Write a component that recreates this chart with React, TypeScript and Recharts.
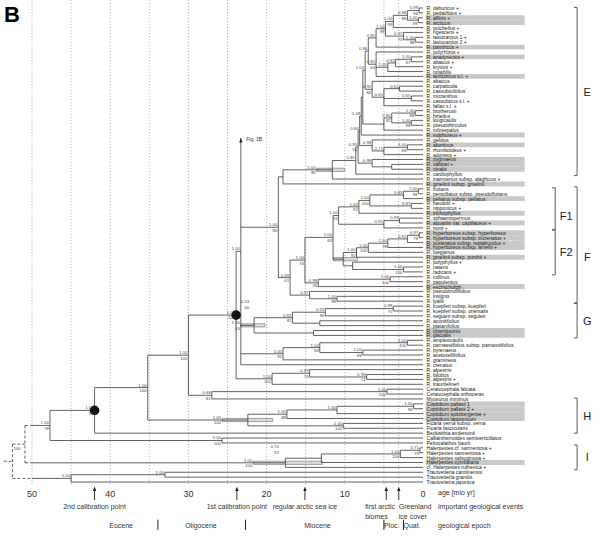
import React from "react";
import { ComposedChart, XAxis, YAxis, Scatter, ReferenceLine, ReferenceArea, ReferenceDot } from "recharts";

const FONT = "'Liberation Sans', Arial, Helvetica, sans-serif";

// ---------------- data ----------------
// tip taxa (top to bottom); second value: highlighted (grey box)
const TIPS: [string, boolean][] = [
  ["R. dahuricus +", false], ["R. pedatifidus +", false], ["R. affinis +", true], ["R. arcticus", true],
  ["R. pulchellus +", false], ["R. rigescens +", false], ["R. lasiocarpus 1 +", false], ["R. lasiocarpus 2 +", false],
  ["R. pamiricus +", true], ["R. polyrhizos +", false], ["R. anadyrensis +", true], ["R. altaicus +", false],
  ["R. krylovii +", false], ["R. notabilis", false], ["R. auricomus s.l. +", true], ["R. altaicus", false],
  ["R. carpaticola", false], ["R. cassubicifolius", false], ["R. micranthus", false], ["R. cassubicus s.l. +", false],
  ["R. fallax s.l. +", false], ["R. brotherusii", false], ["R. hirtellus", false], ["R. longicaulis", false],
  ["R. pseudohirculus", false], ["R. rufosepalus", false], ["R. sulphureus +", true], ["R. gelidus", false],
  ["R. abortivus", true], ["R. rhomboideus +", false], ["R. adoneus +", false], ["R. pygmaeus", true],
  ["R. sabinei +", true], ["R. nivalis", true], ["R. cardiophyllus", false], ["R. inamoenus subsp. alaghicus +", false],
  ["R. gmelinii subsp. gmelinii", true], ["R. fluitans", false], ["R. penicillatus subsp. pseudofluitans", false],
  ["R. peltatus subsp. peltatus", true], ["R. baudotii +", false], ["R. nipponicus +", false], ["R. trichophyllus", true],
  ["R. sphaerospermus", false], ["R. aquatilis var. capillaceus +", true], ["R. rionii +", false],
  ["R. hyperboreus subsp. hyperboreus", true], ["R. hyperboreus subsp. tricrenatus +", true],
  ["R. sceleratus subsp. reptabundus +", true], ["R. hyperboreus subsp. arnellii +", true], ["R. fuegianus", false],
  ["R. gmelinii subsp. purshii +", true], ["R. polyphyllus +", false], ["R. natans", false], ["R. radicans +", false],
  ["R. collinus", false], ["R. papulentus", false], ["R. eschscholtzii", true], ["R. pseudotrullifolius", false],
  ["R. insignis", false], ["R. lyallii", false], ["R. kuepferi subsp. kuepferi", false], ["R. kuepferi subsp. orientalis", false],
  ["R. seguieri subsp. seguieri", false], ["R. aconitifolius", false], ["R. platanifolius", false], ["R. chamissonis", true],
  ["R. glacialis", true], ["R. amplexicaulis", false], ["R. parnassiifolius subsp. parnassiifolius", false],
  ["R. pyrenaeus", false], ["R. acetosellifolius", false], ["R. gramineus", false], ["R. crenatus", false],
  ["R. alpestris", false], ["R. bilobus", false], ["R. alpestris +", false], ["R. traunfellneri", false],
  ["Ceratocephala falcata", false], ["Ceratocephala orthoceras", false], ["Myosurus minimus", false],
  ["Coptidium pallasii 1", true], ["Coptidium pallasii 2 +", true], ["Coptidium spitsbergense +", true],
  ["Coptidium lapponicum", true], ["Ficaria verna subsp. verna", false], ["Ficaria fascicularis", false],
  ["Beckwithia andersonii", false], ["Callianthemoides semiverticillatus", false], ["Peltocalathos baurii", false],
  ["Halerpestes cf. sarmentosa +", false], ["Halerpestes sarmentosa +", false], ["Halerpestes salsuginosa +", false],
  ["Halerpestes cymbalaria", true], ["cf. Halerpestes ruthenica +", false], ["Trautvetteria carolinensis", false],
  ["Trautvetteria grandis", false], ["Trautvetteria japonica", false],
];

// internal nodes: id, age (Ma), children (tip number 1-based, node id, or "fig" = pointer to Fig. 1B), posterior, bootstrap
type Kid = string | number;
const NODES: [string, number, Kid[], string, string][] = [
  ["e1", 0.5, [1, 2], "0.99", "66"], ["e2", 0.6, [3, 4], "1.00", "99"], ["e3", 2.0, ["e1", "e2"], "0.98", "88"],
  ["e4", 3.8, ["e3", 5], "1.00", "99"], ["e5", 1.0, [7, 8], "1.00", "98"], ["e6", 2.5, [6, "e5"], "0.97", "73"],
  ["e7", 4.8, ["e4", "e6"], "1.00", "99"], ["e8", 6.0, ["e7", 9], "0.95", ""], ["e9", 1.5, [11, 12], "1.00", "97"],
  ["e10", 3.5, ["e9", 13], "0.93", ""], ["e11", 4.5, ["e10", 14], "1.00", ""], ["e12", 6.0, [10, "e11", 15], "0.95", "64"],
  ["xc", 7.0, ["e8", "e12"], "0.96", ""], ["e14", 1.5, [19, 20], "0.65", ""], ["e15", 3.0, [17, 18], "0.61", ""],
  ["e16", 5.0, ["e15", "e14", 21], "0.65", ""], ["e17", 6.5, [16, "e16"], "0.95", "84"], ["xb", 7.4, ["xc", "e17"], "1.00", ""],
  ["e18", 1.0, [22, 23], "1.00", "88"], ["e19", 1.5, [24, 25], "1.00", "98"], ["e20", 4.0, ["e18", "e19"], "0.85", "82"],
  ["e21", 5.0, ["e20", 26], "", ""], ["xa", 7.7, ["xb", "e21"], "", ""], ["l1", 7.9, ["xa", 27], "0.58", ""],
  ["e23", 2.0, [29, 30], "1.00", "83"], ["e24", 5.0, ["e23", 31], "0.71", ""], ["e25", 6.5, [28, "e24"], "0.98", ""],
  ["l2", 8.1, ["l1", "e25"], "0.84", ""], ["e26", 4.0, [33, 34], "", ""], ["e27", 6.5, [32, "e26"], "0.98", ""],
  ["l3", 8.3, ["l2", "e27"], "0.95", "55"], ["l4", 8.6, ["l3", 35], "0.85", ""], ["E", 11.6, ["l4", 36], "1.00", "86"],
  ["EG", 17.9, ["E", 37], "", ""],
  ["f1", 0.6, [38, 39], "1.00", "98"], ["f2", 2.5, ["f1", 40], "0.83", ""], ["f3", 1.5, [41, 42], "0.97", ""],
  ["f4", 6.8, ["f2", "f3"], "1.00", "100"], ["f5", 8.2, ["f4", 43], "1.00", "92"], ["f6", 3.0, [44, 45], "0.99", ""],
  ["f7", 5.0, ["f6", 46], "0.91", ""], ["F1", 10.8, ["f5", "f7"], "1.00", "74"], ["f8", 0.5, [47, 48], "0.97", "78"],
  ["f9", 2.0, ["f8", 49], "0.92", ""], ["f10", 4.5, ["f9", 50], "1.00", "78"], ["f11", 7.0, ["f10", 51], "1.00", "100"],
  ["f12", 8.5, ["f11", 52], "1.00", "92"], ["f13", 2.5, [54, 55], "1.00", "100"], ["f14", 9.0, [53, "f13"], "", ""],
  ["F2", 10.2, ["f12", "f14"], "", ""], ["F12", 11.5, ["F1", "F2"], "1.00", "63"], ["f16", 4.2, [56, 57], "1.00", "100"],
  ["f17", 13.4, ["f16", 58], "0.99", "56"], ["f19", 11.0, [60, 61], "1.00", "98"], ["f20", 14.5, [59, "f19"], "0.97", ""],
  ["f18", 15.1, ["F12", "f17"], "1.00", "74"], ["F", 17.0, ["f18", "f20"], "0.99", "61"],
  ["Z", 18.5, ["EG", "F"], "1.00", "86"],
  ["g1", 3.8, [62, 63], "0.98", "75"], ["g2", 12.5, ["g1", 64], "0.92", "96"], ["g3", 13.2, [65, 66], "", ""],
  ["g4", 16.7, ["g2", "g3"], "0.92", "82"], ["g6", 14.0, [67, 68], "", ""], ["g5", 21.6, ["g4", "g6"], "1.00", "63"],
  ["p1", 2.0, [69, 70], "1.00", "100"], ["p2", 7.7, [71, 72], "1.00", "88"], ["p3", 13.2, ["p1", "p2"], "1.00", "94"],
  ["p4", 17.9, ["p3", 73], "1.00", "91"], ["X1", 23.3, ["fig", "Z", "g5", "p4", 74], "1.00", ""],
  ["a0", 7.2, [76, 77], "0.99", "74"], ["a1", 14.5, [75, "a0"], "0.99", "74"], ["a2", 19.3, ["a1", 78], "1.00", "100"],
  ["D", 23.9, ["X1", "a2"], "1.00", "100"], ["ce", 4.6, [79, 80], "1.00", "100"], ["cm", 27.0, ["ce", 81], "0.68", "81"],
  ["N30", 30.0, ["D", "cm"], "1.00", "100"], ["c1", 1.2, [82, 83], "1.00", "96"], ["c2", 11.0, ["c1", 84], "1.00", ""],
  ["c3", 17.4, ["c2", 85], "1.00", "88"], ["fi", 10.2, [86, 87], "1.00", "100"], ["CF", 22.4, ["c3", "fi"], "1.00", "100"],
  ["N35", 35.2, ["N30", "CF"], "1.00", "100"], ["N42", 42.0, ["N35", 88], "1.00", "97"], ["cp", 25.7, [89, 90], "1.00", "100"],
  ["N47", 47.7, ["N42", "cp"], "1.00", "78"], ["h1", 0.4, [91, 92], "0.71", "79"], ["h2", 2.9, ["h1", 93], "1.00", "100"],
  ["h3", 13.0, ["h2", 94], "", ""], ["h4", 17.6, ["h3", 95], "1.00", "100"], ["t1", 33.0, [96, 97], "1.00", ""],
  ["t2", 45.0, ["t1", 98], "1.00", ""],
];

// 95% HPD bars: node, older bound, younger bound
const HPD: [string, number, number][] = [
  ["E", 13.6, 10.0], ["F2", 11.5, 8.4], ["g5", 23.3, 20.2], ["CF", 25.7, 19.2], ["h4", 21.7, 12.9],
];
const CALIBRATED_NODES = ["N42", "D"];
const ROOT_STEMS = ["N47", "h4", "t2"];
const AGE_TICKS = [50, 40, 30, 20, 10, 0];
const GRID_AGES = [50, 45, 40, 35, 30, 25, 20, 15, 10, 5, 3.1];
const EVENTS: [number, string[]][] = [
  [42.0, ["2nd calibration point"]], [23.8, ["1st calibration point"]], [15.1, ["regular arctic sea ice"]],
  [4.7, ["first arctic", "biomes"]], [3.1, ["Greenland", "ice cover"]],
];
const EPOCHS: [number, string][] = [[38.6, "Eocene"], [28.4, "Oligocene"], [13.5, "Miocene"], [4.0, "Ploc."], [1.4, "Quat."]];
const EPOCH_BOUNDS = [33.9, 22.7, 5.0, 2.5];
// clade brackets: label, top row, bottom row, column
const CLADES: [string, number, number, number][] = [
  ["E", 0.9, 35.3, 0], ["F", 37.6, 61.4, 0], ["G", 61.4, 68.5, 0], ["H", 80.8, 88.0, 0], ["I", 90.4, 95.5, 0],
  ["F1", 37.8, 46.4, 1], ["F2", 46.4, 55.6, 1],
];

// ---------------- layout helpers (axis space: x = age, y = tip row) ----------------
const X_DOMAIN: [number, number] = [-22.63, 54.09];
const Y_DOMAIN: [number, number] = [-0.637, 109.246];
const TIP_LABEL_AGE = -0.45;
const HL_END_AGE = -13.0;
const ROW_AXIS = 100.45, ROW_EVENT = 103.1, ROW_EVENT2 = 105.15, ROW_EPOCH = 106.8;
const ARROW_TOP = 98.9, ARROW_BOTTOM = 101.7, GRID_BOTTOM = 98.8;
const LEGEND_AGE = -1.92;
const BRACKET_AGE = [-19.7, -16.9];
const BRACKET_LABEL_AGE = [-21.0, -18.3];
const FIG_REF_ROW = 27.6;

const nodeById = new Map(NODES.map((n) => [n[0], n]));
const ageOf = (k: Kid): number => (typeof k === "number" ? 0 : nodeById.get(k)![1]);
const yMemo = new Map<string, number>();
const yOf = (k: Kid): number => {
  if (typeof k === "number") return k;
  if (k === "fig") return FIG_REF_ROW;
  if (yMemo.has(k)) return yMemo.get(k)!;
  const ys = nodeById.get(k)![2].map(yOf);
  const v = (Math.min(...ys) + Math.max(...ys)) / 2;
  yMemo.set(k, v);
  return v;
};

type Seg = { x1: number; y1: number; x2: number; y2: number; dashed?: boolean };
const branches: Seg[] = [];
NODES.forEach(([, age, kids]) => {
  const ys = kids.map(yOf);
  branches.push({ x1: age, y1: Math.min(...ys), x2: age, y2: Math.max(...ys) });
  kids.filter((k) => k !== "fig").forEach((k) => branches.push({ x1: age, y1: yOf(k), x2: ageOf(k), y2: yOf(k) }));
});
// root stems & dashed (uncertain) root connectors
const ROOT_AGE = 50, ROOT_A = 50.9, ROOT_B = 52.5, ROOT_C = 53.6;
ROOT_STEMS.forEach((id) => branches.push({ x1: ROOT_AGE, y1: yOf(id), x2: ageOf(id), y2: yOf(id) }));
{
  const a = yOf("N47"), b = yOf("h4"), c = yOf("t2");
  const m1 = (a + b) / 2, m2 = (m1 + c) / 2;
  branches.push(
    { x1: ROOT_A, y1: a, x2: ROOT_AGE, y2: a, dashed: true },
    { x1: ROOT_A, y1: b, x2: ROOT_AGE, y2: b, dashed: true },
    { x1: ROOT_A, y1: a, x2: ROOT_A, y2: b, dashed: true },
    { x1: ROOT_B, y1: m1, x2: ROOT_A, y2: m1, dashed: true },
    { x1: ROOT_B, y1: c, x2: ROOT_AGE, y2: c, dashed: true },
    { x1: ROOT_B, y1: m1, x2: ROOT_B, y2: c, dashed: true },
    { x1: ROOT_C, y1: m2, x2: ROOT_B, y2: m2, dashed: true },
  );
}
const rootLabel = [{ x: (ROOT_A + ROOT_B) / 2 + 0.2, y: (yOf("N47") + yOf("h4")) / 2 + 0.9, t: "100" }];

const hpdMap = new Map(HPD.map((h) => [h[0], h]));
const nodeLabels = NODES.filter((n) => n[3] || n[4]).map(([id, age, , pp, bs]) => ({
  x: hpdMap.has(id) ? hpdMap.get(id)![1] : age, y: yOf(id), pp, bs,
}));
const extraLabels = [
  { x: 22.1, y: 61.6, pp: "0.53", bs: "60" },
  { x: 18.3, y: 91.3, pp: "0.74", bs: "92" },
];
const tipData = TIPS.map(([t], i) => ({ x: TIP_LABEL_AGE, y: i + 1, t }));
const tickData = AGE_TICKS.map((a) => ({ x: a, y: ROW_AXIS, t: String(a) }));
const eventText = EVENTS.flatMap(([a, lines]) =>
  lines.map((t, i) => ({ x: a, y: i === 0 ? ROW_EVENT : ROW_EVENT2, t, multi: lines.length > 1 })),
);
const eventCentered = eventText.filter((d) => !d.multi);
const eventLeft = eventText
  .filter((d) => d.multi)
  .map((d) => ({ ...d, x: d.x > 4 ? 7.4 : 3.1 }));
const epochText = EPOCHS.map(([a, t]) => ({ x: a, y: ROW_EPOCH, t }));
const legendText = [
  { x: LEGEND_AGE, y: ROW_AXIS - 0.35, t: "age [mio yr]" },
  { x: LEGEND_AGE, y: ROW_EVENT, t: "important geological events" },
  { x: LEGEND_AGE, y: ROW_EPOCH, t: "geological epoch" },
];
const arrowHeads = EVENTS.map(([a]) => ({ x: a, y: ARROW_TOP }));
const cladeLabels = CLADES.map(([t, top, bot, col]) => ({
  x: BRACKET_LABEL_AGE[col], y: t === "F1" ? 43.6 : t === "F2" ? 51.0 : (top + bot) / 2 + (t === "F" ? 2.5 : 0), t,
}));
const fig1b = [{ x: ageOf("X1") - 0.7, y: FIG_REF_ROW + 0.3, t: "Fig. 1B" }];
const fig1bArrow = [{ x: ageOf("X1"), y: FIG_REF_ROW }];

// ---------------- rendering ----------------
const textShape = (size: number, anchor: string, fill = "#222", weight = "normal", dx = 0) => (p: any) => (
  <text x={p.cx + dx} y={p.cy} fontSize={size} textAnchor={anchor} fill={fill} fontWeight={weight}
    fontFamily={FONT} dominantBaseline="central">{p.payload.t}</text>
);
const supportShape = (p: any) => (
  <g fontFamily={FONT} fontSize={4.3} fill="#444" textAnchor="end">
    {p.payload.pp ? <text x={p.cx - 1} y={p.cy - 1.1}>{p.payload.pp}</text> : null}
    {p.payload.bs ? <text x={p.cx - 1} y={p.cy + 4.4}>{p.payload.bs}</text> : null}
  </g>
);
const arrowShape = (p: any) => (
  <path d={`M${p.cx},${p.cy} L${p.cx - 1.7},${p.cy + 4.5} L${p.cx + 1.7},${p.cy + 4.5} Z`} fill="#222" />
);

export default function App() {
  const lineColor = "#3a3a3a";
  return (
    <div style={{ width: 600, height: 537, background: "#fff", position: "relative" }}>
      <style>{"body{margin:0;background:#fff}"}</style>
      <ComposedChart width={600} height={537} margin={{ top: 0, right: 0, bottom: 0, left: 0 }}>
        <XAxis type="number" dataKey="x" domain={X_DOMAIN} reversed hide allowDataOverflow />
        <YAxis type="number" dataKey="y" domain={Y_DOMAIN} reversed hide allowDataOverflow />

        {/* highlighted taxa */}
        {TIPS.map(([, hl], i) =>
          hl ? (
            <ReferenceArea key={`hl${i}`} x1={TIP_LABEL_AGE + 0.1} x2={HL_END_AGE} y1={i + 0.5} y2={i + 1.5}
              fill="#c9c9c9" fillOpacity={1} stroke="none" ifOverflow="visible" />
          ) : null,
        )}

        {/* dotted time grid */}
        {GRID_AGES.map((a) => (
          <ReferenceLine key={`g${a}`} segment={[{ x: a, y: Y_DOMAIN[0] }, { x: a, y: GRID_BOTTOM }]}
            stroke="#9a9a9a" strokeWidth={0.7} strokeDasharray="1.2 1.8" ifOverflow="visible" />
        ))}

        {/* HPD bars */}
        {HPD.map(([id, a1, a2]) => (
          <ReferenceArea key={`hpd${id}`} x1={a1} x2={a2} y1={yOf(id) - 0.33} y2={yOf(id) + 0.33}
            fill="#dcdcdc" fillOpacity={1} stroke="#555" strokeWidth={0.5} ifOverflow="visible" />
        ))}

        {/* branches */}
        {branches.map((s, i) => (
          <ReferenceLine key={`b${i}`} segment={[{ x: s.x1, y: s.y1 }, { x: s.x2, y: s.y2 }]}
            stroke={lineColor} strokeWidth={0.8} strokeDasharray={s.dashed ? "3 2" : undefined} ifOverflow="visible" />
        ))}

        {/* clade brackets */}
        {CLADES.map(([t, top, bot, col]) => {
          const x = BRACKET_AGE[col];
          return (
            <React.Fragment key={`c${t}`}>
              <ReferenceLine segment={[{ x, y: top }, { x, y: bot }]} stroke="#333" strokeWidth={0.8} ifOverflow="visible" />
              <ReferenceLine segment={[{ x, y: top }, { x: x + 0.4, y: top }]} stroke="#333" strokeWidth={0.8} ifOverflow="visible" />
              <ReferenceLine segment={[{ x, y: bot }, { x: x + 0.4, y: bot }]} stroke="#333" strokeWidth={0.8} ifOverflow="visible" />
            </React.Fragment>
          );
        })}

        {/* event arrows & epoch separators */}
        {EVENTS.map(([a]) => (
          <ReferenceLine key={`ev${a}`} segment={[{ x: a, y: ARROW_TOP + 0.6 }, { x: a, y: ARROW_BOTTOM }]}
            stroke="#222" strokeWidth={0.9} ifOverflow="visible" />
        ))}
        {EPOCH_BOUNDS.map((a) => (
          <ReferenceLine key={`ep${a}`} segment={[{ x: a, y: ROW_EPOCH - 1.1 }, { x: a, y: ROW_EPOCH + 1.0 }]}
            stroke="#222" strokeWidth={1} ifOverflow="visible" />
        ))}

        {/* calibration points */}
        {CALIBRATED_NODES.map((id) => (
          <ReferenceDot key={`dot${id}`} x={ageOf(id)} y={yOf(id)} r={4.8} fill="#111" stroke="none" ifOverflow="visible" />
        ))}

        {/* texts */}
        <Scatter data={tipData} shape={textShape(5, "start", "#222")} isAnimationActive={false} />
        <Scatter data={nodeLabels} shape={supportShape} isAnimationActive={false} />
        <Scatter data={extraLabels} shape={supportShape} isAnimationActive={false} />
        <Scatter data={rootLabel} shape={textShape(4.3, "middle", "#444")} isAnimationActive={false} />
        <Scatter data={tickData} shape={textShape(9, "middle", "#333")} isAnimationActive={false} />
        <Scatter data={eventCentered} shape={textShape(7, "middle", "#333")} isAnimationActive={false} />
        <Scatter data={eventLeft} shape={textShape(7, "start", "#333")} isAnimationActive={false} />
        <Scatter data={epochText} shape={textShape(7, "middle", "#333")} isAnimationActive={false} />
        <Scatter data={legendText} shape={textShape(7, "start", "#333")} isAnimationActive={false} />
        <Scatter data={cladeLabels} shape={textShape(11, "middle", "#222")} isAnimationActive={false} />
        <Scatter data={fig1b} shape={textShape(5, "start", "#333")} isAnimationActive={false} />
        <Scatter data={fig1bArrow} shape={arrowShape} isAnimationActive={false} />
        <Scatter data={arrowHeads} shape={arrowShape} isAnimationActive={false} />
      </ComposedChart>
      <div style={{ position: "absolute", left: 4, top: 2, fontFamily: FONT, fontWeight: "bold", fontSize: 22 }}>B</div>
    </div>
  );
}
